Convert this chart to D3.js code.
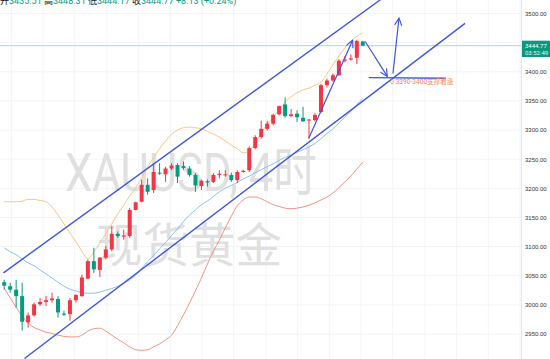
<!DOCTYPE html>
<html>
<head>
<meta charset="utf-8">
<script src="https://cdn.jsdelivr.net/npm/d3@7/dist/d3.min.js"></script>
<style>
  body { margin: 0; background: #ffffff; overflow: hidden; }
  svg { display: block; font-family: Roboto, "Noto Sans CJK SC", sans-serif; }
</style>
</head>
<body>
<script>
// #Candles (4H XAUUSD), red = up, green = down
const opens  = [3039,3032,3026,3015,2970,2982,3001,3005,3008,3010,2985,2984,3008,3015,3045,3075,3060,3081,3095,3122,3117,3118,3163,3177,3206,3197,3227,3224,3234,3240,3238,3234,3223,3204,3212,3211,3223,3223,3223,3214,3228,3231,3269,3288,3302,3311,3327,3344,3324,3328,3321,3317,3317,3331,3377,3385,3394,3419,3421,3424,3452];
const highs  = [3043,3038,3043,3038,2987,3004,3012,3015,3021,3015,2990,3012,3018,3052,3078,3098,3082,3101,3135,3126,3129,3166,3177,3215,3217,3243,3243,3237,3243,3243,3246,3238,3226,3215,3215,3226,3231,3231,3227,3231,3232,3272,3291,3316,3316,3328,3342,3356,3336,3334,3340,3319,3329,3379,3388,3397,3422,3427,3430,3455,3453];
const lows   = [3026,3021,2995,2956,2961,2980,2998,2998,3004,2978,2981,2973,3004,3014,3044,3055,3048,3078,3092,3115,3112,3115,3162,3176,3189,3192,3223,3211,3231,3209,3232,3220,3194,3197,3203,3209,3217,3220,3211,3209,3227,3228,3267,3285,3299,3308,3325,3321,3322,3314,3314,3285,3315,3329,3373,3383,3393,3416,3419,3413,3444];
const closes = [3033,3026,3015,2971,2982,3001,3005,3008,3011,2987,2983,3008,3017,3047,3075,3061,3081,3095,3122,3118,3119,3163,3176,3206,3194,3228,3226,3234,3239,3220,3235,3223,3205,3213,3210,3223,3225,3224,3214,3228,3230,3269,3288,3302,3311,3326,3341,3324,3327,3322,3315,3318,3326,3377,3385,3394,3419,3421,3423,3453,3444.77];

// #Bollinger bands
const bbUpper  = [3177,3177,3177,3178,3181,3181,3179,3177,3168,3154,3139,3123,3108,3092,3079,3091,3106,3122,3139,3156,3171,3187,3201,3218,3237,3252,3268,3281,3293,3300,3304,3305,3304,3302,3298,3293,3288,3281,3274,3268,3261,3264,3278,3295,3310,3322,3334,3348,3357,3364,3369,3372,3377,3382,3396,3412,3427,3441,3453,3461,3467];
const bbMiddle = [3098,3091,3086,3079,3072,3067,3060,3053,3046,3039,3032,3027,3024,3021,3020,3020,3022,3025,3028,3032,3037,3043,3051,3063,3074,3085,3096,3107,3119,3130,3143,3154,3163,3172,3178,3186,3194,3200,3205,3210,3216,3221,3227,3232,3237,3242,3248,3253,3257,3262,3266,3271,3277,3285,3294,3302,3312,3322,3332,3344,3354];
const bbLower  = [3029,3012,2996,2981,2969,2961,2957,2953,2951,2948,2946,2945,2945,2948,2955,2959,2960,2955,2948,2941,2935,2928,2923,2922,2923,2928,2933,2940,2948,2964,2983,3003,3024,3046,3070,3092,3111,3132,3152,3170,3180,3185,3185,3182,3177,3172,3169,3166,3165,3166,3168,3171,3175,3180,3185,3192,3201,3211,3221,3233,3245];

// #Price axis ticks
const priceTicks = [2950,3000,3050,3100,3150,3200,3250,3300,3350,3400,3450,3500];
const lastPrice = 3444.77;
const lastTime = '03:52:49';

// #Drawings: [candle index, price]
const channelUpper = [[-0.12, 3055], [63, 3524]];
const channelLower = [[3.4, 2908], [77.1, 3483]];
const arrowUp1  = [[50.96, 3286], [58.3, 3454]];
const arrowDown = [[60.4, 3452], [64.1, 3392]];
const arrowUp2  = [[65.05, 3397], [66.05, 3492]];
const supportLine = [[61.0, 3390], [73.9, 3389]];
const supportText = '0 3390-3400支撑看涨';

const width = 550, height = 359, plotRight = 521;

const svg = d3.select('body')
              .append('svg')
              .attr('width', width)
              .attr('height', height);

const x = d3.scaleLinear().domain([0, 60]).range([4.2, 362.8]);
const y = d3.scaleLinear().domain([2950, 3500]).range([334, 13.5]);
const idx = d3.range(opens.length);

svg.append('clipPath').attr('id', 'plot')
   .append('rect').attr('x', 0).attr('y', 0).attr('width', plotRight).attr('height', height);

const defs = svg.append('defs');
defs.append('marker')
    .attr('id', 'arrow')
    .attr('viewBox', '0 0 10 10')
    .attr('refX', 9).attr('refY', 5)
    .attr('markerWidth', 9).attr('markerHeight', 9)
    .attr('markerUnits', 'userSpaceOnUse')
    .attr('orient', 'auto')
    .append('path')
    .attr('d', 'M1,1 L9,5 L1,9')
    .attr('fill', 'none')
    .attr('stroke', '#3f56d8')
    .attr('stroke-width', 1.3);

const plot = svg.append('g').attr('clip-path', 'url(#plot)');

// #Grid
plot.append('g')
    .selectAll('line')
    .data(priceTicks)
    .enter()
    .append('line')
    .attr('x1', 0).attr('x2', plotRight)
    .attr('y1', d => y(d)).attr('y2', d => y(d))
    .attr('stroke', '#f3f4f7');

const gridIdx = [1.2, 6.5, 11.8, 17.2, 22.5, 27.8, 33.1, 38.4, 43.8, 49.1, 54.4, 59.7, 65, 70.4, 75.7, 81, 86.3];
plot.append('g')
    .selectAll('line')
    .data(gridIdx)
    .enter()
    .append('line')
    .attr('x1', d => x(d)).attr('x2', d => x(d))
    .attr('y1', 0).attr('y2', height)
    .attr('stroke', '#f3f4f7');

// #Watermark
plot.append('text')
    .attr('x', 65).attr('y', 191)
    .attr('textLength', 252)
    .attr('lengthAdjust', 'spacingAndGlyphs')
    .style('font-size', '54px')
    .attr('fill', '#e0e0e0')
    .text('XAUUSD, 4时');
plot.append('text')
    .attr('x', 96).attr('y', 262)
    .attr('textLength', 186)
    .attr('lengthAdjust', 'spacingAndGlyphs')
    .style('font-size', '47px')
    .style('font-family', '"Noto Sans CJK SC", sans-serif')
    .attr('fill', '#e0e0e0')
    .text('现货黄金');

// #Bollinger bands
const bandLine = arr => d3.line().x((d, i) => x(i)).y(d => y(d)).curve(d3.curveMonotoneX)(arr);
plot.append('path').attr('d', bandLine(bbUpper)).attr('fill', 'none').attr('stroke', '#fbc687').attr('stroke-width', 1);
plot.append('path').attr('d', bandLine(bbMiddle)).attr('fill', 'none').attr('stroke', '#8fc1ea').attr('stroke-width', 1);
plot.append('path').attr('d', bandLine(bbLower)).attr('fill', 'none').attr('stroke', '#ec9588').attr('stroke-width', 1);

// #Last price line
plot.append('line')
    .attr('x1', 0).attr('x2', plotRight)
    .attr('y1', y(lastPrice)).attr('y2', y(lastPrice))
    .attr('stroke', '#a9d9d4')
    .attr('stroke-width', 1);

// #Candles
const up = i => closes[i] >= opens[i];
const candles = plot.append('g')
                    .selectAll('g')
                    .data(idx)
                    .enter()
                    .append('g');
candles.append('line')
       .attr('x1', i => x(i)).attr('x2', i => x(i))
       .attr('y1', i => y(highs[i])).attr('y2', i => y(lows[i]))
       .attr('stroke', i => up(i) ? '#f23645' : '#089981');
candles.append('rect')
       .attr('x', i => x(i) - 2)
       .attr('width', 4)
       .attr('y', i => y(Math.max(opens[i], closes[i])))
       .attr('height', i => Math.max(1, Math.abs(y(opens[i]) - y(closes[i]))))
       .attr('fill', i => up(i) ? '#f23645' : '#089981');

// #Channel and arrows
const drawLine = d3.line().x(d => x(d[0])).y(d => y(d[1]));
[channelUpper, channelLower, supportLine].forEach(pts => {
    plot.append('path').attr('d', drawLine(pts))
        .attr('fill', 'none').attr('stroke', '#3f56d8').attr('stroke-width', 1.4);
});
[arrowUp1, arrowDown, arrowUp2].forEach(pts => {
    plot.append('path').attr('d', drawLine(pts))
        .attr('fill', 'none').attr('stroke', '#3f56d8').attr('stroke-width', 1.2)
        .attr('marker-end', 'url(#arrow)');
});
plot.append('text')
    .attr('x', x(64.6)).attr('y', y(3379))
    .style('font-size', '6.6px')
    .attr('fill', '#f2825a')
    .text(supportText);

// #Price axis
svg.append('line')
   .attr('x1', plotRight + 0.5).attr('x2', plotRight + 0.5)
   .attr('y1', 0).attr('y2', height)
   .attr('stroke', '#e3e5ea');

const yAxis = d3.axisRight(y)
                .tickValues(priceTicks)
                .tickFormat(d3.format('.2f'))
                .tickSize(0)
                .tickPadding(3);
const axisG = svg.append('g')
                 .attr('transform', 'translate(' + (plotRight + 1) + ',0)')
                 .call(yAxis);
axisG.select('.domain').remove();
axisG.selectAll('text').style('font-size', '6px').attr('fill', '#333');

// #Last price label
const ly = y(lastPrice);
svg.append('rect')
   .attr('x', plotRight + 1).attr('y', ly - 5)
   .attr('width', width - plotRight - 1).attr('height', 16.3)
   .attr('fill', '#089981');
svg.append('text')
   .attr('x', plotRight + 4).attr('y', ly + 2)
   .style('font-size', '6px').attr('fill', '#fff')
   .text(d3.format('.2f')(lastPrice));
svg.append('text')
   .attr('x', plotRight + 4).attr('y', ly + 9)
   .style('font-size', '6px').attr('fill', '#e6f5f2')
   .text(lastTime);

// #Header (cut off at top, as in the screenshot)
const header = svg.append('text').attr('x', 0).attr('y', 3.5).style('font-size', '9px');
[['开', '#131722'], ['3435.51 ', '#089981'], ['高', '#131722'], ['3448.31 ', '#089981'],
 ['低', '#131722'], ['3444.17 ', '#089981'], ['收', '#131722'], ['3444.77 +8.13 (+0.24%)', '#089981']]
  .forEach(p => header.append('tspan').attr('fill', p[1]).text(p[0]));
</script>
</body>
</html>
